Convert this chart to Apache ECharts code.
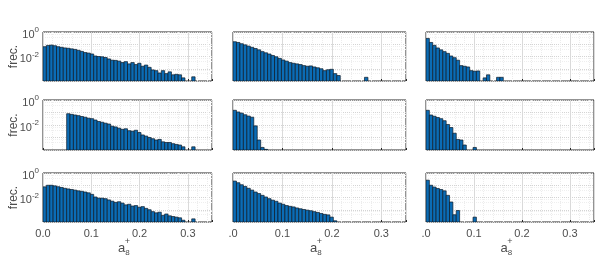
<!DOCTYPE html>
<html>
<head>
<meta charset="utf-8">
<script src="https://cdn.jsdelivr.net/npm/echarts@6/dist/echarts.min.js"></script>
<style>
  html, body { margin: 0; padding: 0; background: #fff; }
  #chart { width: 605px; height: 264px; }
</style>
</head>
<body>
<div id="chart"></div>
<script>
// histogram bin width (same for every panel), bins start at 0
var binWidth = 0.007;

// frequencies per bin, row by row (null = empty bin)
var freqR1C1 = [0.063, 0.08, 0.085, 0.076, 0.063, 0.056, 0.05, 0.047, 0.042, 0.038,
    0.032, 0.026, 0.021, 0.019, 0.016, 0.011, 0.010, 0.0095, 0.0083, 0.0063,
    0.005, 0.0048, 0.0042, 0.0032, 0.0038, 0.0025, 0.0032, 0.0022, 0.0028, 0.0016,
    0.002, 0.0013, 0.0008, 0.0007, 0.00045, 0.0007, 0.0004, 0.00056, 0.00032, 0.00035,
    0.00032, 0.00018, null, null, 0.00022];
var freqR1C2 = [0.16, 0.14, 0.11, 0.089, 0.071, 0.056, 0.045, 0.035, 0.025, 0.02,
    0.016, 0.012, 0.0095, 0.007, 0.0052, 0.0042, 0.0032, 0.0028, 0.0025, 0.0022,
    0.0018, 0.0016, 0.0017, 0.0014, 0.0012, 0.001, 0.0007, 0.00083, 0.0009, 0.0004,
    0.00028, null, null, null, null, null, null, null, 0.0002];
var freqR1C3 = [0.3, 0.14, 0.08, 0.05, 0.035, 0.025, 0.018, 0.011, 0.008, 0.005,
    0.0018, 0.0016, 0.0014, 0.0007, 0.00063, 0.00066, null, 0.00018, 0.00032, null,
    null, 0.0002, 0.0002];
var freqR2C1 = [null, null, null, null, null, null, null, 0.08, 0.071, 0.063,
    0.056, 0.048, 0.042, 0.035, 0.032, 0.025, 0.019, 0.0166, 0.014, 0.012,
    0.008, 0.007, 0.0056, 0.0045, 0.005, 0.0035, 0.0032, 0.0038, 0.0025, 0.0016,
    0.0013, 0.001, 0.0008, 0.00063, 0.0007, 0.00045, 0.0004, 0.0004, 0.00032, 0.00028,
    0.00025, 0.00018, null, null, 0.00018];
var freqR2C2 = [0.15, 0.11, 0.089, 0.066, 0.052, 0.042, 0.0085, 0.00063, 0.00016, 0.000112];
var freqR2C3 = [0.15, 0.063, 0.05, 0.04, 0.032, 0.022, 0.011, 0.0063, 0.0022, 0.0007,
    0.00063, 0.00025, null, null, 0.00016];
var freqR3C1 = [0.074, 0.1, 0.1, 0.089, 0.076, 0.066, 0.056, 0.05, 0.045, 0.04,
    0.035, 0.032, 0.028, 0.024, 0.018, 0.011, 0.0089, 0.0089, 0.008, 0.0063,
    0.005, 0.004, 0.0045, 0.0035, 0.0025, 0.0028, 0.002, 0.0022, 0.0016, 0.0018,
    0.0013, 0.001, 0.0007, 0.00056, 0.00063, 0.00035, 0.00045, 0.00032, 0.00028, 0.00025,
    0.00022, 0.00014, null, null, 0.00018];
var freqR3C2 = [0.22, 0.16, 0.11, 0.08, 0.056, 0.04, 0.028, 0.021, 0.015, 0.011,
    0.008, 0.006, 0.0049, 0.0035, 0.0028, 0.0022, 0.0019, 0.0017, 0.0014, 0.0012,
    0.00105, 0.00093, 0.00083, 0.0007, 0.0006, 0.0005, 0.00042, 0.00038, 0.00025, 0.000126];
var freqR3C3 = [0.26, 0.1, 0.071, 0.054, 0.045, 0.035, 0.015, 0.0043, 0.00039, 0.00087,
    null, null, null, null, 0.00025];

var panels = [
    [freqR1C1, freqR1C2, freqR1C3],
    [freqR2C1, freqR2C2, freqR2C3],
    [freqR3C1, freqR3C2, freqR3C3]
];

// axis ranges and tick labels
var xMin = 0, xMax = 0.35;
var yMin = 0.0001, yMax = 1;
var xTickLabelsFirst = ['0.0', '0.1', '0.2', '0.3'];
var xTickLabelsOther = ['.0', '0.1', '0.2', '0.3'];
var yTickLabels = { '0': '{b|10}{s|0}', '-2': '{b|10}{s|-2}' };

var colLeft = [43, 233, 426];
var colWidth = [169, 173, 168];
var rowTop = [32, 100, 173];
var rowHeight = [49, 50, 49];

var textColor = '#4d4d4d';
var fontFamily = 'Liberation Sans, Arial, sans-serif';

var chart = echarts.init(document.getElementById('chart'));

var grids = [], xAxes = [], yAxes = [], series = [], graphics = [];

for (var r = 0; r < 3; r++) {
    for (var c = 0; c < 3; c++) {
        var idx = r * 3 + c;
        grids.push({
            left: colLeft[c], top: rowTop[r], width: colWidth[c], height: rowHeight[r],
            show: true, backgroundColor: '#fff', borderColor: '#262626', borderWidth: 1
        });
        (function(col, bottomRow) {
            xAxes.push({
                type: 'value', gridIndex: idx, min: xMin, max: xMax, interval: 0.1,
                axisLine: { show: false },
                axisTick: { show: true, inside: true, length: 2, lineStyle: { color: '#262626' } },
                minorTick: { show: false, splitNumber: 5 },
                splitLine: { show: true, lineStyle: { color: '#dadada', width: 1 } },
                minorSplitLine: { show: true, lineStyle: { color: '#ececec', type: 'dotted' } },
                axisLabel: {
                    show: bottomRow, color: textColor, fontSize: 11, fontFamily: fontFamily, margin: 6,
                    formatter: function(v) {
                        var labels = col === 0 ? xTickLabelsFirst : xTickLabelsOther;
                        var k = Math.round(v * 10);
                        return labels[k] || '';
                    }
                }
            });
        })(c, r === 2);
        yAxes.push({
            type: 'log', logBase: 10, gridIndex: idx, min: yMin, max: yMax,
            axisLine: { show: false },
            axisTick: { show: false },
            splitLine: { show: true, lineStyle: { color: '#d4d4d4', type: 'dotted' } },
            minorTick: { show: false, splitNumber: 3 },
            minorSplitLine: { show: true, lineStyle: { color: '#efefef', type: 'dotted' } },
            axisLabel: {
                show: c === 0, color: textColor, fontFamily: fontFamily, margin: 4,
                formatter: function(v) {
                    var e = Math.round(Math.log10(v));
                    return yTickLabels[String(e)] || '';
                },
                rich: {
                    b: { fontSize: 11, color: textColor, fontFamily: fontFamily, padding: [5, 0, 0, 0] },
                    s: { fontSize: 8, color: textColor, fontFamily: fontFamily, padding: [0, 0, 4, 0] }
                }
            }
        });

        var data = [];
        panels[r][c].forEach(function(v, i) {
            if (v != null) data.push([i * binWidth, (i + 1) * binWidth, v]);
        });
        series.push({
            type: 'custom', xAxisIndex: idx, yAxisIndex: idx, clip: true,
            encode: { x: [0, 1], y: 2 },
            data: data,
            renderItem: function(params, api) {
                var p0 = api.coord([api.value(0), api.value(2)]);
                var p1 = api.coord([api.value(1), yMin]);
                return {
                    type: 'rect',
                    shape: { x: p0[0], y: p0[1], width: p1[0] - p0[0], height: p1[1] - p0[1] },
                    style: { fill: '#0b6cb5', stroke: '#0d1a26', lineWidth: 0.7 }
                };
            }
        });
    }
    // y axis title for each row
    graphics.push({
        type: 'text', x: 14, y: rowTop[r] + rowHeight[r] / 2, rotation: Math.PI / 2,
        style: { text: 'frec.', fill: textColor, font: '12px ' + fontFamily, align: 'center', verticalAlign: 'middle' }
    });
}

// x axis titles under bottom row: a with subscript 8 and superscript +
for (var c2 = 0; c2 < 3; c2++) {
    var cx = colLeft[c2] + colWidth[c2] / 2 - 6;
    graphics.push({
        type: 'group', x: cx, y: 248,
        children: [
            { type: 'text', x: 0, y: 0, style: { text: 'a', fill: textColor, font: '13px ' + fontFamily, align: 'center', verticalAlign: 'middle' } },
            { type: 'text', x: 6, y: -6, style: { text: '+', fill: textColor, font: '9px ' + fontFamily, align: 'center', verticalAlign: 'middle' } },
            { type: 'text', x: 6, y: 5, style: { text: '8', fill: textColor, font: '8px ' + fontFamily, align: 'center', verticalAlign: 'middle' } }
        ]
    });
}

var option = {
    backgroundColor: '#fff',
    animation: false,
    grid: grids,
    xAxis: xAxes,
    yAxis: yAxes,
    series: series,
    graphic: graphics
};
chart.setOption(option);
</script>
</body>
</html>
